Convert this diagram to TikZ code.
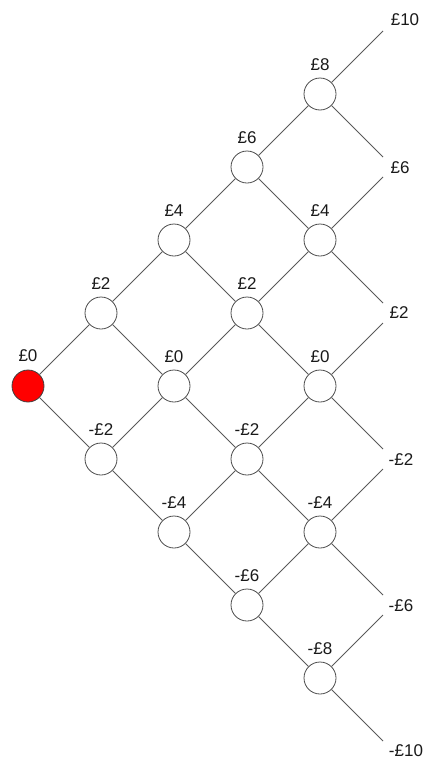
\documentclass[tikz,border=0pt]{standalone}
\usepackage{fontspec}
\setmainfont{Liberation Sans}
\begin{document}
\begin{tikzpicture}[x=1pt,y=-1pt,
  state/.style={circle,draw=black!70,line width=0.8pt,minimum size=32pt,inner sep=0pt,fill=white},
  start/.style={state,fill=red,draw=black!75},
  edge/.style={draw=black!65,line width=0.8pt},
  lbl/.style={font=\fontsize{17}{20}\selectfont,inner sep=0pt,text=black!90}]
\useasboundingbox (0,0) rectangle (428,763);
% nodes
\node[start] (a0) at (28,386) {};
\node[state] (b2) at (101,313) {};
\node[state] (bm2) at (101,459) {};
\node[state] (c4) at (174,240) {};
\node[state] (c0) at (174,386) {};
\node[state] (cm4) at (174,532) {};
\node[state] (d6) at (247,167) {};
\node[state] (d2) at (247,313) {};
\node[state] (dm2) at (247,459) {};
\node[state] (dm6) at (247,605) {};
\node[state] (e8) at (320,94) {};
\node[state] (e4) at (320,240) {};
\node[state] (e0) at (320,386) {};
\node[state] (em4) at (320,532) {};
\node[state] (em8) at (320,678) {};
% line ends
\coordinate (t10) at (383,31);
\coordinate (t6a) at (383,157);
\coordinate (t6b) at (383,177);
\coordinate (t2a) at (383,303);
\coordinate (t2b) at (383,323);
\coordinate (tm2a) at (383,449);
\coordinate (tm2b) at (383,469);
\coordinate (tm6a) at (383,595);
\coordinate (tm6b) at (383,615);
\coordinate (tm10) at (383,741);
% edges
\path[edge] (a0) -- (b2) (a0) -- (bm2)
  (b2) -- (c4) (b2) -- (c0) (bm2) -- (c0) (bm2) -- (cm4)
  (c4) -- (d6) (c4) -- (d2) (c0) -- (d2) (c0) -- (dm2) (cm4) -- (dm2) (cm4) -- (dm6)
  (d6) -- (e8) (d6) -- (e4) (d2) -- (e4) (d2) -- (e0) (dm2) -- (e0) (dm2) -- (em4) (dm6) -- (em4) (dm6) -- (em8)
  (e8) -- (t10) (e8) -- (t6a) (e4) -- (t6b) (e4) -- (t2a) (e0) -- (t2b) (e0) -- (tm2a)
  (em4) -- (tm2b) (em4) -- (tm6a) (em8) -- (tm6b) (em8) -- (tm10);
% labels above nodes
\node[lbl] (la0) at (28,356) {£0};
\node[lbl] (lb2) at (101,284) {£2};
\node[lbl] (lbm2) at (101,430) {-£2};
\node[lbl] (lc4) at (174,211) {£4};
\node[lbl] (lc0) at (174,357) {£0};
\node[lbl] (lcm4) at (174,503) {-£4};
\node[lbl] (ld6) at (247,138) {£6};
\node[lbl] (ld2) at (247,284) {£2};
\node[lbl] (ldm2) at (247,430) {-£2};
\node[lbl] (ldm6) at (247,576) {-£6};
\node[lbl] (le8) at (320,65) {£8};
\node[lbl] (le4) at (320,211) {£4};
\node[lbl] (le0) at (320,357) {£0};
\node[lbl] (lem4) at (320,503) {-£4};
\node[lbl] (lem8) at (320,649) {-£8};
% terminal labels
\node[lbl] (f10) at (405,20) {£10};
\node[lbl] (f6) at (400,168) {£6};
\node[lbl] (f2) at (399,313) {£2};
\node[lbl] (fm2) at (401,460) {-£2};
\node[lbl] (fm6) at (401,606) {-£6};
\node[lbl] (fm10) at (406,751) {-£10};
\end{tikzpicture}
\end{document}
